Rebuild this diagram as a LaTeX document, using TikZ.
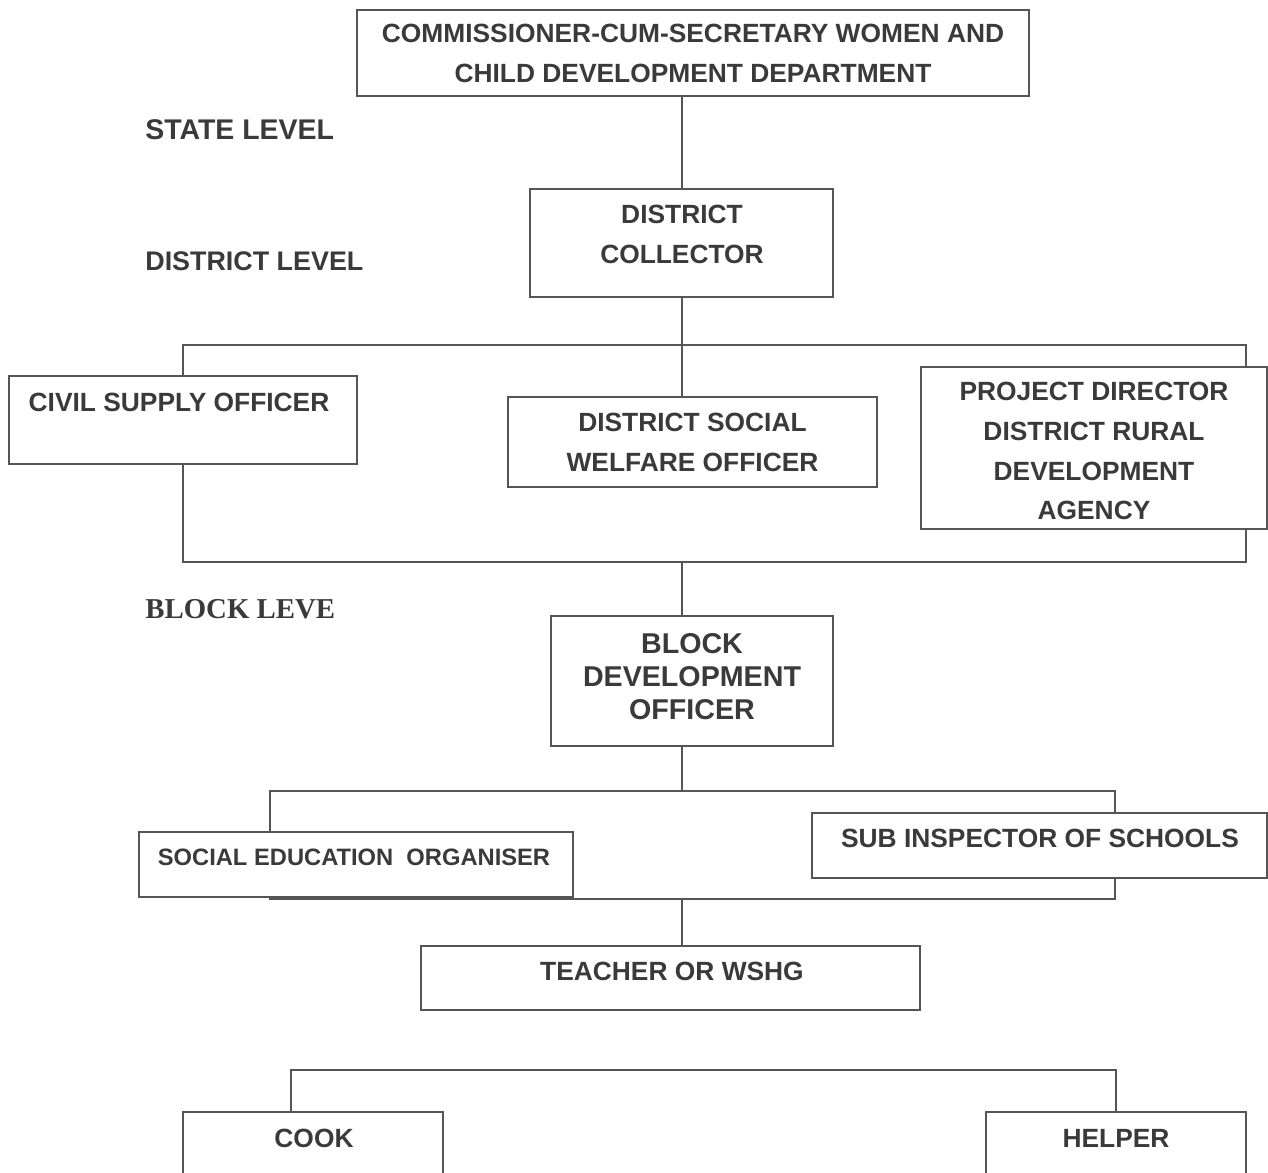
\documentclass[tikz,border=0pt]{standalone}
\usepackage{fontspec}
\setmainfont{Liberation Sans}
\newfontfamily\blockfont{Liberation Serif}
\usetikzlibrary{backgrounds}
\definecolor{linegray}{HTML}{555555}
\definecolor{txtgray}{HTML}{3A3A3A}
\tikzset{
  box/.style={draw=linegray, line width=0.04cm, fill=white, inner sep=0pt},
  txt/.style={text=txtgray, font=\bfseries\fontsize{15}{22.7}\selectfont, align=center, inner sep=0pt},
  lvl/.style={txt, anchor=west, font=\bfseries\fontsize{16}{19}\selectfont},
  conn/.style={draw=linegray, line width=0.04cm}
}
\begin{document}
\begin{tikzpicture}[x=0.02cm, y=-0.02cm]
    \useasboundingbox (0,0) rectangle (1268,1173);
    \clip (0,0) rectangle (1268,1173);
    % state level
    \node[box, txt, minimum width=13.44cm, minimum height=1.72cm] (comm) at (693,53) {COMMISSIONER-CUM-SECRETARY WOMEN AND\\CHILD DEVELOPMENT DEPARTMENT};
    \node[lvl, font=\bfseries\fontsize{16.2}{19}\selectfont] (state) at (145,130) {STATE LEVEL};
    % district level
    \node[box, minimum width=6.06cm, minimum height=2.16cm] (coll) at (681.5,243) {};
    \node[txt] (coll-t) at (682,234) {DISTRICT\\COLLECTOR};
    \node[lvl, font=\bfseries\fontsize{15.3}{19}\selectfont] (district) at (145,261) {DISTRICT LEVEL};
    \node[box, minimum width=6.96cm, minimum height=1.76cm] (civil) at (183,420) {};
    \node[txt] (civil-t) at (179,402) {CIVIL SUPPLY OFFICER};
    \node[box, txt, minimum width=7.38cm, minimum height=1.8cm] (dswo) at (692.5,442) {DISTRICT SOCIAL\\WELFARE OFFICER};
    \node[box, minimum width=6.92cm, minimum height=3.24cm] (pd) at (1094,448) {};
    \node[txt] (pd-t) at (1094,451) {PROJECT DIRECTOR\\DISTRICT RURAL\\DEVELOPMENT\\AGENCY};
    % block level
    \node[lvl, font=\blockfont\bfseries\fontsize{16.4}{19}\selectfont] (block) at (145,609) {BLOCK LEVE};
    \node[box, minimum width=5.64cm, minimum height=2.6cm] (bdo) at (692,681) {};
    \node[txt, font=\bfseries\fontsize{16.3}{18.8}\selectfont] (bdo-t) at (692,677) {BLOCK\\DEVELOPMENT\\OFFICER};
    \node[box, minimum width=8.68cm, minimum height=1.3cm] (seo) at (356,864.5) {};
    \node[txt, font=\bfseries\fontsize{13.5}{16}\selectfont] (seo-t) at (354,857) {SOCIAL EDUCATION\ \ ORGANISER};
    \node[box, minimum width=9.1cm, minimum height=1.3cm] (sis) at (1039.5,845.5) {};
    \node[txt] (sis-t) at (1040,838) {SUB INSPECTOR OF SCHOOLS};
    \node[box, minimum width=9.98cm, minimum height=1.28cm] (teach) at (670.5,978) {};
    \node[txt] (teach-t) at (672,971) {TEACHER OR WSHG};
    \node[box, minimum width=5.2cm, minimum height=1.76cm] (cook) at (313,1156) {};
    \node[txt] (cook-t) at (314,1138) {COOK};
    \node[box, minimum width=5.2cm, minimum height=1.76cm] (helper) at (1116,1156) {};
    \node[txt] (helper-t) at (1116,1138) {HELPER};
    % brackets
    \coordinate (dtl) at (183,345);
    \coordinate (dbr) at (1246,562);
    \coordinate (btl) at (270,791);
    \coordinate (bbr) at (1115,899);
    \coordinate (ktl) at (291,1070);
    \begin{pgfonlayer}{background}
      \draw[conn] (coll.north |- comm.south) -- (coll.north);
      \draw[conn] (dtl) rectangle (dbr);
      \draw[conn] (coll.south) -- (coll.south |- dswo.north);
      \draw[conn] (coll.south |- dbr) -- (coll.south |- bdo.north);
      \draw[conn] (coll.south |- bdo.south) -- (coll.south |- btl);
      \draw[conn] (btl) rectangle (bbr);
      \draw[conn] (coll.south |- bbr) -- (coll.south |- teach.north);
      \draw[conn] (ktl |- cook.north) -- (ktl) -- (ktl -| helper) -- (helper.north);
    \end{pgfonlayer}
\end{tikzpicture}
\end{document}
